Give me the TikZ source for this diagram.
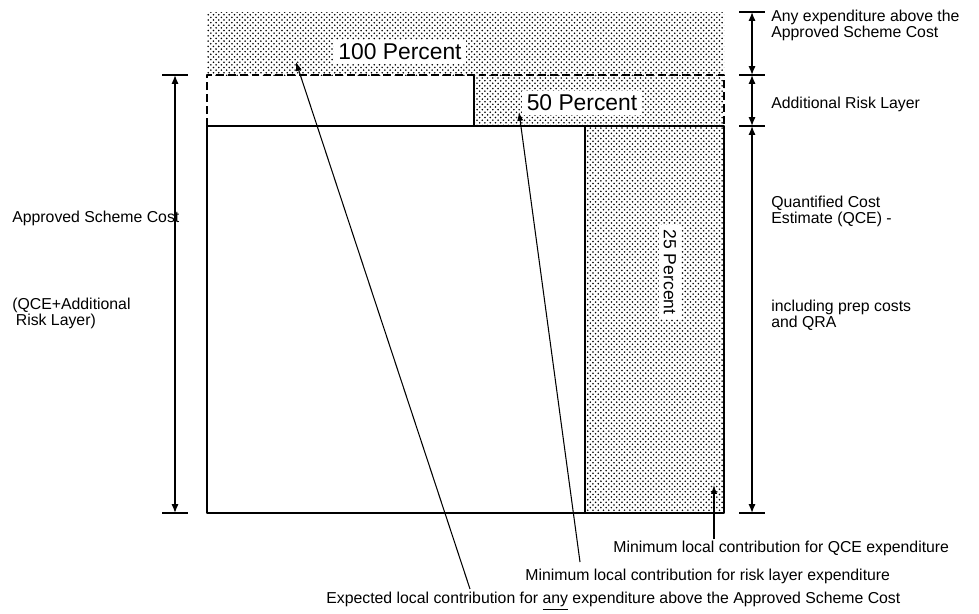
\documentclass[tikz,border=0pt]{standalone}
\usepackage{fontspec}
\setmainfont{Liberation Sans}
\usetikzlibrary{arrows.meta,patterns,positioning}

\tikzset{
  dotfill/.style={pattern=crosshatch dots, pattern color=black},
  lbl/.style={font=\fontsize{9}{9.2}\selectfont, align=left, inner sep=0pt},
  pct/.style={font=\fontsize{13}{15}\selectfont, fill=white, inner sep=2.5pt},
  tickline/.style={line width=1pt},
  dim/.style={line width=0.8pt, {Latex[length=5pt,width=4pt]}-{Latex[length=5pt,width=4pt]}},
  leader/.style={line width=0.6pt, -{Latex[length=5pt,width=3.5pt]}},
}

\begin{document}
\begin{tikzpicture}[x=0.02cm, y=-0.02cm, line join=round]
\useasboundingbox (0,0) rectangle (979,613);

% corners of the bars
\coordinate (tl) at (207,12);
\coordinate (tr) at (724,12);
\coordinate (ml) at (207,75);
\coordinate (mr) at (724,75);
\coordinate (rl) at (207,126);
\coordinate (rr) at (724,126);
\coordinate (bl) at (207,513);
\coordinate (br) at (724,513);
\coordinate (rs) at (474,75);
\coordinate (qs) at (585,126);

% dotted shares
\fill[dotfill] (tl) rectangle (mr);
\fill[dotfill] (rs) rectangle (rr);
\fill[dotfill] (qs) rectangle (br);

% outlines
\draw[line width=1.3pt, dash pattern=on 4.5pt off 2.3pt] (rl) -- (ml) -- (mr) -- (rr);
\draw[line width=0.9pt] (rs) -- (rs |- rr);
\draw[line width=1.3pt] (rl) rectangle (br);
\draw[line width=1.3pt] (qs) -- (qs |- br);

% percent labels
\node[pct] (p100) at (400,52) {100 Percent};
\node[pct] (p50) at (582,103) {50 Percent};
\node[pct, font=\fontsize{10}{12}\selectfont, rotate=-90] (p25) at (670,272) {25 Percent};

% left dimension
\coordinate (la) at (175,75);
\coordinate (lb) at (175,513);
\foreach \y in {75,513}
  \draw[tickline] (162,\y) -- (188,\y);
\draw[dim] (la) -- (lb);

% right dimensions
\coordinate (r0) at (752,12);
\coordinate (r1) at (752,75);
\coordinate (r2) at (752,126);
\coordinate (r3) at (752,513);
\foreach \y in {12,75,126,513}
  \draw[tickline] (739,\y) -- (765,\y);
\draw[dim] (r0) -- (r1);
\draw[dim] (r1) -- (r2);
\draw[dim] (r2) -- (r3);

% side texts
\node[lbl, anchor=west] (above) at (771,25) {Any expenditure above the\\Approved Scheme Cost};
\node[lbl, anchor=west] (risk) at (771,104) {Additional Risk Layer};
\node[lbl, anchor=west] (qce) at (771,211) {Quantified Cost\\Estimate (QCE) -};
\node[lbl, anchor=west] (prep) at (771,315) {including prep costs\\and QRA};
\node[lbl, anchor=west] (asc) at (12,218) {Approved Scheme Cost};
\node[lbl, anchor=west] (ascsum) at (12,313) {(QCE+Additional\\\hspace{2pt}Risk Layer)};

% bottom texts
\node[lbl, anchor=west] (minqce) at (613,548) {Minimum local contribution for QCE expenditure};
\node[lbl, anchor=west] (minrisk) at (525,576) {Minimum local contribution for risk layer expenditure};
\node[lbl, anchor=west] (expect) at (326,601) {Expected local contribution for \underline{any} expenditure above the Approved Scheme Cost};

% leaders
\coordinate (h100) at (296,62);
\coordinate (t100) at (470,589);
\coordinate (h50) at (519,112);
\coordinate (t50) at (580,562);
\coordinate (h25) at (714,485);
\coordinate (t25) at (714,539);
\draw[leader] (t100) -- (h100);
\draw[leader] (t50) -- (h50);
\draw[leader] (t25) -- (h25);

\end{tikzpicture}
\end{document}
